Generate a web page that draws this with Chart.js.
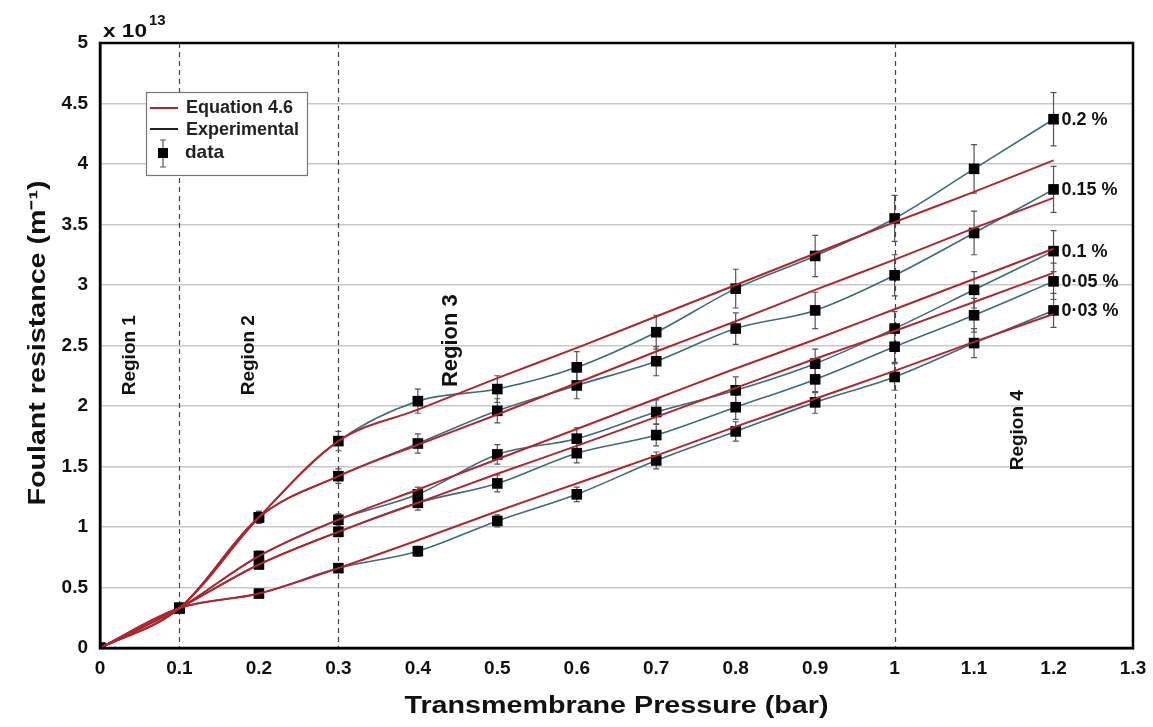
<!DOCTYPE html>
<html><head><meta charset="utf-8">
<script src="https://cdn.jsdelivr.net/npm/chart.js@4"></script>
<style>html,body{margin:0;padding:0;background:#fff}#wrap{width:1153px;height:727px}</style>
</head><body><div id="wrap"><canvas id="c" width="1153" height="727"></canvas></div>
<script>
// Transmembrane pressure (bar)
const pressure = [0, 0.1, 0.2, 0.3, 0.4, 0.5, 0.6, 0.7, 0.8, 0.9, 1.0, 1.1, 1.2];
// Experimental foulant resistance (x 10^13 m^-1)
const exp02  = [0, 0.33, 1.08, 1.71, 2.04, 2.14, 2.32, 2.61, 2.97, 3.24, 3.55, 3.96, 4.37];
const exp015 = [0, 0.33, 1.08, 1.42, 1.69, 1.96, 2.17, 2.37, 2.64, 2.79, 3.08, 3.43, 3.79];
const exp01  = [0, 0.33, 0.76, 1.06, 1.27, 1.60, 1.73, 1.95, 2.13, 2.35, 2.64, 2.96, 3.28];
const exp005 = [0, 0.33, 0.69, 0.96, 1.20, 1.36, 1.61, 1.76, 1.99, 2.22, 2.49, 2.75, 3.03];
const exp003 = [0, 0.33, 0.45, 0.66, 0.80, 1.05, 1.27, 1.55, 1.79, 2.03, 2.24, 2.52, 2.79];
// Error bar half-widths
const err02  = [0, 0.02, 0.05, 0.08, 0.10, 0.11, 0.13, 0.14, 0.16, 0.17, 0.19, 0.20, 0.22];
const err015 = [0, 0.02, 0.05, 0.06, 0.08, 0.10, 0.11, 0.12, 0.13, 0.15, 0.17, 0.18, 0.19];
const err01  = [0, 0.02, 0.04, 0.05, 0.06, 0.08, 0.09, 0.10, 0.11, 0.12, 0.14, 0.15, 0.17];
const err005 = [0, 0.02, 0.03, 0.04, 0.06, 0.07, 0.08, 0.09, 0.10, 0.11, 0.13, 0.14, 0.15];
const err003 = [0, 0.02, 0.03, 0.03, 0.04, 0.05, 0.06, 0.07, 0.08, 0.09, 0.11, 0.12, 0.14];
// Equation 4.6 model values
const mod02  = [0, 0.33, 1.08, 1.71, 1.97, 2.23, 2.48, 2.74, 3.00, 3.26, 3.52, 3.77, 4.03];
const mod015 = [0, 0.33, 1.08, 1.42, 1.68, 1.93, 2.19, 2.45, 2.70, 2.96, 3.21, 3.47, 3.72];
const mod01  = [0, 0.33, 0.76, 1.06, 1.31, 1.56, 1.81, 2.06, 2.31, 2.55, 2.80, 3.05, 3.30];
const mod005 = [0, 0.33, 0.69, 0.96, 1.20, 1.44, 1.67, 1.91, 2.15, 2.39, 2.62, 2.86, 3.10];
const mod003 = [0, 0.33, 0.45, 0.66, 0.89, 1.13, 1.36, 1.59, 1.83, 2.06, 2.29, 2.53, 2.76];
const seriesLabels = ['0.2 %', '0.15 %', '0.1 %', '0·05 %', '0·03 %'];
const regionLabels = ['Region 1', 'Region 2', 'Region 3', 'Region 4'];
const regionX = [0.038, 0.187, 0.442, 1.155];
const regionY = [2.42, 2.42, 2.54, 1.80];
const regionSize = [19, 19, 22, 19];
const boundaries = [0.1, 0.3, 1.0];
const xTitle = 'Transmembrane Pressure (bar)';
const yTitle = 'Foulant resistance (m⁻¹)';

const RED = '#b0262c', BLUE = '#3c6b7b';
const FONT = '"Liberation Sans", Arial, sans-serif';
const expSets = [exp02, exp015, exp01, exp005, exp003];
const errSets = [err02, err015, err01, err005, err003];
const modSets = [mod02, mod015, mod01, mod005, mod003];
const pts = arr => pressure.map((x, i) => ({x, y: arr[i]}));

const datasets = [];
modSets.forEach((m, i) => datasets.push({label: 'Equation 4.6 ' + seriesLabels[i], data: pts(m), borderColor: RED, borderWidth: 2, pointRadius: 0, cubicInterpolationMode: 'monotone', fill: false}));
expSets.forEach((e, i) => datasets.push({label: 'Experimental ' + seriesLabels[i], data: pts(e), borderColor: BLUE, borderWidth: 1.6, pointStyle: 'rect', pointRadius: 7.5, pointBackgroundColor: '#000', pointBorderColor: '#000', pointBorderWidth: 0, cubicInterpolationMode: 'monotone', fill: false, isExp: true, errIndex: i}));

function stretchedText(ctx, text, cx, cy, targetLen, rot) {
  ctx.save();
  ctx.translate(cx, cy);
  if (rot) ctx.rotate(rot);
  const w = ctx.measureText(text).width;
  ctx.scale(targetLen / w, 1);
  ctx.fillText(text, 0, 0);
  ctx.restore();
}

const deco = {
  id: 'deco',
  beforeDatasetsDraw(chart) {
    const {ctx, chartArea: a, scales: {x, y}} = chart;
    ctx.save();
    ctx.strokeStyle = '#444'; ctx.lineWidth = 1.2; ctx.setLineDash([5, 4]);
    boundaries.forEach(b => { const px = Math.round(x.getPixelForValue(b)) + 0.5; ctx.beginPath(); ctx.moveTo(px, a.top); ctx.lineTo(px, a.bottom); ctx.stroke(); });
    ctx.setLineDash([]);
    // error bars
    ctx.strokeStyle = '#555'; ctx.lineWidth = 1.2;
    chart.data.datasets.forEach(ds => {
      if (!ds.isExp) return;
      const errs = errSets[ds.errIndex];
      ds.data.forEach((p, i) => {
        const e = errs[i]; if (!e) return;
        const px = x.getPixelForValue(p.x), y1 = y.getPixelForValue(p.y - e), y2 = y.getPixelForValue(p.y + e);
        ctx.beginPath(); ctx.moveTo(px, y1); ctx.lineTo(px, y2);
        ctx.moveTo(px - 3, y1); ctx.lineTo(px + 3, y1); ctx.moveTo(px - 3, y2); ctx.lineTo(px + 3, y2); ctx.stroke();
      });
    });
    // region labels
    ctx.fillStyle = '#111'; ctx.textAlign = 'center'; ctx.textBaseline = 'middle';
    regionLabels.forEach((t, i) => { ctx.save(); ctx.font = 'bold ' + regionSize[i] + 'px ' + FONT; ctx.translate(x.getPixelForValue(regionX[i]), y.getPixelForValue(regionY[i])); ctx.rotate(-Math.PI / 2); ctx.fillText(t, 0, 0); ctx.restore(); });
    ctx.restore();
  },
  afterDraw(chart) {
    const {ctx, chartArea: a, scales: {x, y}} = chart;
    ctx.save();
    ctx.strokeStyle = '#000'; ctx.lineWidth = 2.5;
    ctx.strokeRect(a.left, a.top, a.right - a.left, a.bottom - a.top);
    // series labels at right
    ctx.fillStyle = '#111'; ctx.font = 'bold 18px ' + FONT; ctx.textAlign = 'left'; ctx.textBaseline = 'middle';
    expSets.forEach((e, i) => ctx.fillText(seriesLabels[i], x.getPixelForValue(1.2) + 8, y.getPixelForValue(e[e.length - 1]) + 1));
    // multiplier
    ctx.font = 'bold 19px ' + FONT; ctx.textBaseline = 'alphabetic'; ctx.textAlign = 'center';
    stretchedText(ctx, 'x 10', 125, 37, 44, 0);
    ctx.textAlign = 'left';
    ctx.font = 'bold 15px ' + FONT;
    ctx.fillText('13', 149, 25);
    // axis titles
    ctx.fillStyle = '#111'; ctx.font = 'bold 23px ' + FONT; ctx.textAlign = 'center'; ctx.textBaseline = 'alphabetic';
    stretchedText(ctx, xTitle, (a.left + a.right) / 2, 713, 424, 0);
    stretchedText(ctx, yTitle, 45, 343, 325, -Math.PI / 2);
    // legend
    const lx = 146, ly = 92, lw = 161, lh = 83;
    ctx.fillStyle = '#fff'; ctx.fillRect(lx, ly, lw, lh);
    ctx.strokeStyle = '#777'; ctx.lineWidth = 1.2; ctx.strokeRect(lx + 0.5, ly + 0.5, lw, lh);
    ctx.lineWidth = 2;
    ctx.strokeStyle = RED; ctx.beginPath(); ctx.moveTo(150, 108); ctx.lineTo(178, 108); ctx.stroke();
    ctx.strokeStyle = '#222'; ctx.beginPath(); ctx.moveTo(150, 129); ctx.lineTo(178, 129); ctx.stroke();
    ctx.strokeStyle = '#555'; ctx.lineWidth = 1.2; ctx.beginPath();
    ctx.moveTo(163, 140); ctx.lineTo(163, 167); ctx.moveTo(160, 140); ctx.lineTo(166, 140); ctx.moveTo(160, 167); ctx.lineTo(166, 167); ctx.stroke();
    ctx.fillStyle = '#000'; ctx.fillRect(158, 148, 10, 10);
    ctx.save(); ctx.beginPath(); ctx.rect(lx, ly, lw, lh); ctx.clip();
    ctx.fillStyle = '#222'; ctx.font = 'bold 18px ' + FONT; ctx.textAlign = 'left'; ctx.textBaseline = 'middle';
    ctx.fillText('Equation 4.6', 186, 108);
    ctx.fillText('Experimental', 186, 130);
    ctx.font = 'bold 19px ' + FONT;
    ctx.fillText('data', 185, 153);
    ctx.restore();
    ctx.restore();
  }
};

new Chart(document.getElementById('c'), {
  type: 'line',
  data: {datasets},
  plugins: [deco],
  options: {
    responsive: false, animation: false, devicePixelRatio: 1,
    layout: {padding: {left: 0, top: 43, right: 20, bottom: 0}},
    plugins: {legend: {display: false}, tooltip: {enabled: false}},
    scales: {
      x: {type: 'linear', min: 0, max: 1.3,
        ticks: {stepSize: 0.1, padding: 9, color: '#111', font: {family: FONT, size: 19, weight: 'bold'}, callback: v => String(+v.toFixed(1))},
        grid: {display: false, drawTicks: false}, border: {display: true, color: '#000', width: 2.5},
        afterFit: s => { s.height = 79; s.paddingLeft = 0; s.paddingRight = 0; }},
      y: {type: 'linear', min: 0, max: 5,
        ticks: {stepSize: 0.5, padding: 12, color: '#111', font: {family: FONT, size: 19, weight: 'bold'}, callback: v => String(+v.toFixed(1))},
        grid: {color: '#c8c8c8', lineWidth: 1.5, drawTicks: false}, border: {display: true, color: '#000', width: 2.5},
        afterFit: s => { s.width = 100; s.paddingTop = 0; s.paddingBottom = 0; }}
    }
  }
});
</script></body></html>
